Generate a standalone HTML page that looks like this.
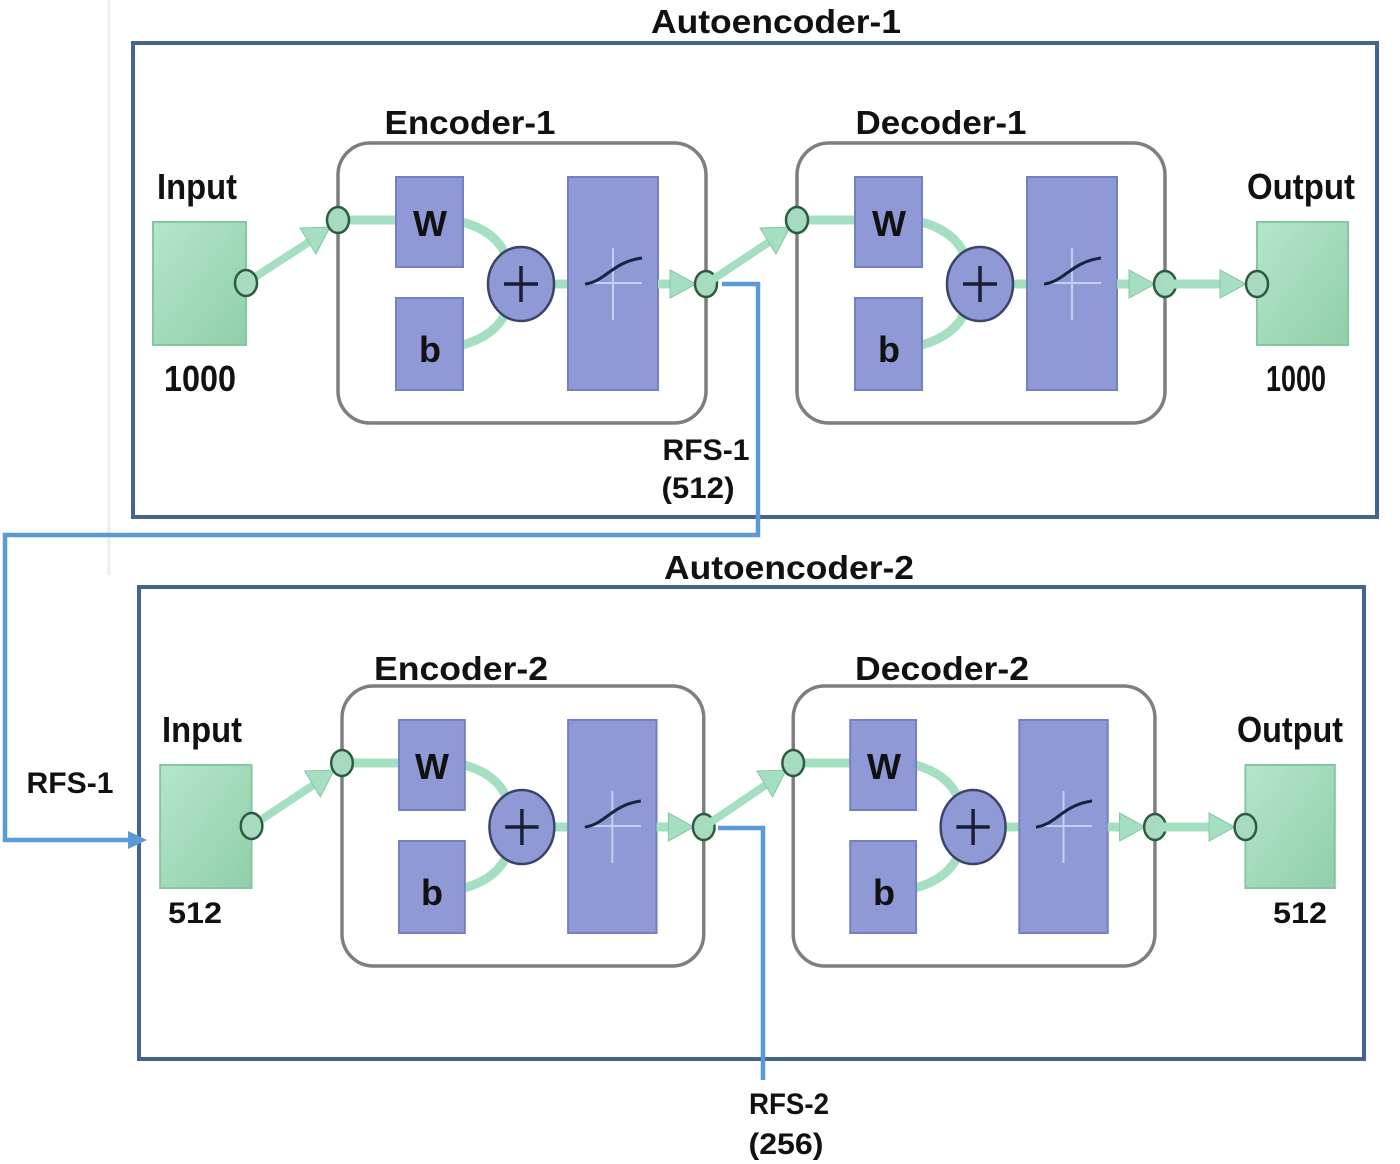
<!DOCTYPE html>
<html><head><meta charset="utf-8"><style>
html,body{margin:0;padding:0;background:#fff}
svg{display:block}
text{font-family:"Liberation Sans",sans-serif;font-weight:bold;fill:#111}
</style></head><body>
<svg width="1400" height="1164" viewBox="0 0 1400 1164" xmlns="http://www.w3.org/2000/svg">
<defs>
<linearGradient id="gg" x1="0" y1="0" x2="1" y2="1"><stop offset="0" stop-color="#b4e6cb"/><stop offset="1" stop-color="#8fcfa9"/></linearGradient>
<g id="node"><ellipse cx="0" cy="0" rx="11" ry="13" fill="#a6dbbf" stroke="#2e5a40" stroke-width="2.5"/></g>
<g id="enc">
  <rect x="338" y="143" width="368" height="280" rx="32" fill="#fff" stroke="#7e7e7e" stroke-width="3.5"/>
  <line x1="338" y1="220" x2="398" y2="220" stroke="#a5dfc1" stroke-width="9"/>
  <path d="M462,222 Q500,232 508,262" fill="none" stroke="#a5dfc1" stroke-width="9"/>
  <path d="M462,345 Q497,336 508,308" fill="none" stroke="#a5dfc1" stroke-width="9"/>
  <line x1="552" y1="284" x2="570" y2="284" stroke="#a5dfc1" stroke-width="9"/>
  <rect x="396" y="177" width="67" height="90" fill="#8e99d6" stroke="#7480c4" stroke-width="2"/>
  <rect x="396" y="298" width="67" height="92" fill="#8e99d6" stroke="#7480c4" stroke-width="2"/>
  <ellipse cx="521" cy="284" rx="33" ry="37" fill="#8e99d6" stroke="#3b4468" stroke-width="2.5"/>
  <line x1="504" y1="284" x2="538" y2="284" stroke="#1b1e33" stroke-width="3.5"/>
  <line x1="521" y1="266" x2="521" y2="302" stroke="#1b1e33" stroke-width="3.5"/>
  <rect x="568" y="177" width="90" height="213" fill="#8e99d6" stroke="#7480c4" stroke-width="2"/>
  <line x1="613" y1="248" x2="613" y2="320" stroke="#c7d0f2" stroke-width="2"/>
  <line x1="585" y1="283" x2="642" y2="283" stroke="#c7d0f2" stroke-width="2"/>
  <path d="M585,284 C605,282 612,262 642,258" fill="none" stroke="#1b2240" stroke-width="3"/>
  <line x1="658" y1="284" x2="675" y2="284" stroke="#a5dfc1" stroke-width="9"/>
  <polygon points="670,270 696,284 670,298" fill="#a5dfc1" stroke="#86c7a4" stroke-width="1"/>
  <use href="#node" x="706" y="284"/>
  <use href="#node" x="338" y="220"/>
</g>
<g id="ae">
  <rect x="153" y="222" width="93" height="123" fill="url(#gg)" stroke="#86c7a2" stroke-width="2"/>
  <line x1="246" y1="283" x2="312" y2="240" stroke="#a5dfc1" stroke-width="8"/>
  <polygon points="300,228 330,227 316,254" fill="#a5dfc1" stroke="#86c7a4" stroke-width="1"/>
  <use href="#node" x="246" y="283"/>
  <use href="#enc"/>
  <line x1="706" y1="284" x2="772" y2="240" stroke="#a5dfc1" stroke-width="8"/>
  <polygon points="760,228 790,227 776,254" fill="#a5dfc1" stroke="#86c7a4" stroke-width="1"/>
  <use href="#enc" transform="translate(459,0)"/>
  <rect x="1257" y="222" width="91" height="123" fill="url(#gg)" stroke="#86c7a2" stroke-width="2"/>
  <line x1="1165" y1="284" x2="1230" y2="284" stroke="#a5dfc1" stroke-width="9"/>
  <polygon points="1220,270 1246,284 1220,298" fill="#a5dfc1" stroke="#86c7a4" stroke-width="1"/>
  <use href="#node" x="1257" y="284"/>
</g>
</defs>

<line x1="109" y1="0" x2="109" y2="575" stroke="#eeeeee" stroke-width="3"/>

<rect x="133" y="43" width="1244" height="474" fill="none" stroke="#42648e" stroke-width="4"/>
<use href="#ae"/>
<rect x="139" y="587" width="1225" height="472" fill="none" stroke="#42648e" stroke-width="4"/>
<use href="#ae" transform="translate(9.75,543) scale(0.983,1)"/>

<polyline points="722,284 758,284 758,535 5,535 5,840 132,840" fill="none" stroke="#5b9bd5" stroke-width="4.5"/>
<polygon points="128,831 147,840 128,849" fill="#5b9bd5"/>
<polyline points="718,828 763,828 763,1080" fill="none" stroke="#5b9bd5" stroke-width="4.5"/>

<g font-size="36" text-anchor="middle" style="font-weight:normal">
<text x="430" y="236">W</text><text x="430" y="362">b</text>
<text x="889" y="236">W</text><text x="889" y="362">b</text>
<text x="432" y="779">W</text><text x="432" y="905">b</text>
<text x="884" y="779">W</text><text x="884" y="905">b</text>
</g>

<g font-size="33" text-anchor="middle" lengthAdjust="spacingAndGlyphs">
<text x="776" y="33" textLength="250" lengthAdjust="spacingAndGlyphs">Autoencoder-1</text>
<text x="470" y="134" textLength="171" lengthAdjust="spacingAndGlyphs">Encoder-1</text>
<text x="941" y="134" textLength="171" lengthAdjust="spacingAndGlyphs">Decoder-1</text>
<text x="789" y="579" textLength="250" lengthAdjust="spacingAndGlyphs">Autoencoder-2</text>
<text x="461" y="680" textLength="174" lengthAdjust="spacingAndGlyphs">Encoder-2</text>
<text x="942" y="680" textLength="174" lengthAdjust="spacingAndGlyphs">Decoder-2</text>
</g>
<g font-size="36" text-anchor="middle">
<text x="197" y="199" textLength="80" lengthAdjust="spacingAndGlyphs">Input</text>
<text x="200" y="391" textLength="72" lengthAdjust="spacingAndGlyphs">1000</text>
<text x="1301" y="199" textLength="108" lengthAdjust="spacingAndGlyphs">Output</text>
<text x="1296" y="391" textLength="60" lengthAdjust="spacingAndGlyphs">1000</text>
<text x="202" y="742" textLength="80" lengthAdjust="spacingAndGlyphs">Input</text>
<text x="1290" y="742" textLength="106" lengthAdjust="spacingAndGlyphs">Output</text>
</g>
<g font-size="30" text-anchor="middle">
<text x="195" y="923" textLength="54" lengthAdjust="spacingAndGlyphs">512</text>
<text x="1300" y="923" textLength="54" lengthAdjust="spacingAndGlyphs">512</text>
<text x="706" y="460" textLength="87" lengthAdjust="spacingAndGlyphs">RFS-1</text>
<text x="698" y="498" textLength="73" lengthAdjust="spacingAndGlyphs">(512)</text>
<text x="70" y="793" textLength="87" lengthAdjust="spacingAndGlyphs">RFS-1</text>
<text x="789" y="1114" textLength="80" lengthAdjust="spacingAndGlyphs">RFS-2</text>
<text x="786" y="1154" textLength="75" lengthAdjust="spacingAndGlyphs">(256)</text>
</g>
</svg>
</body></html>
